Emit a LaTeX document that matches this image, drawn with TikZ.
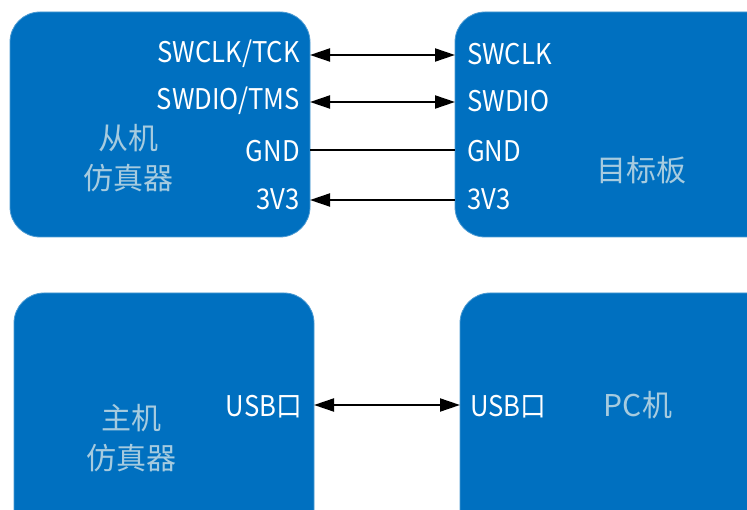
\documentclass[tikz,border=0pt]{standalone}
\usepackage{fontspec}
\setmainfont{Noto Sans CJK SC}
\newfontfamily\pinfont[FakeStretch=0.9]{Noto Sans CJK SC}
\usetikzlibrary{arrows.meta}
\definecolor{boxblue}{HTML}{0070C0}
\definecolor{softtxt}{HTML}{A6CBDF}
\tikzset{
  blk/.style={fill=boxblue, draw=boxblue!70!white, line width=0.8pt, rounded corners=30pt},
  pin/.style={text=white, font=\pinfont\fontsize{28.5}{28}\selectfont, inner sep=0pt},
  title/.style={text=softtxt, font=\fontsize{30}{40}\selectfont, align=center, inner sep=0pt},
  conn/.style={line width=2pt, black}
}
\begin{document}
\begin{tikzpicture}[x=1pt,y=-1pt]
\useasboundingbox (0,0) rectangle (747,510);
\clip (0,0) rectangle (747,510);
\fill[white] (0,0) rectangle (747,510);
% boxes
\draw[blk] (10,12) rectangle (310,237);
\draw[blk] (455,12) rectangle (780,237);
\draw[blk] (14,293) rectangle (314,560);
\draw[blk] (460,293) rectangle (780,560);
% titles
\node[title] (slave) at (128,158) {从机\\仿真器};
\node[title] (target) at (641,170) {目标板};
\node[title] (host) at (131,438) {主机\\仿真器};
\node[title] (pc) at (638,405) {PC机};
% left pins
\node[pin, anchor=east] (lclk) at (300,54) {SWCLK/TCK};
\node[pin, anchor=east] (lio) at (300,101) {SWDIO/TMS};
\node[pin, anchor=east] (lgnd) at (300,151) {GND};
\node[pin, anchor=east] (l33) at (300,199) {3V3};
\node[pin, anchor=east] (lusb) at (302,407) {USB口};
% right pins
\node[pin, anchor=west] (rclk) at (467,54) {SWCLK};
\node[pin, anchor=west] (rio) at (467,101) {SWDIO};
\node[pin, anchor=west] (rgnd) at (467,151) {GND};
\node[pin, anchor=west] (r33) at (467,199) {3V3};
\node[pin, anchor=west] (rusb) at (470,407) {USB口};
% anchor points on box edges
\coordinate (a1) at (310,55);  \coordinate (b1) at (455,55);
\coordinate (a2) at (310,102); \coordinate (b2) at (455,102);
\coordinate (a3) at (310,150); \coordinate (b3) at (455,150);
\coordinate (a4) at (310,200); \coordinate (b4) at (455,200);
\coordinate (a5) at (314,405); \coordinate (b5) at (460,405);
\draw[conn, {Triangle[length=20pt,width=13pt]}-{Triangle[length=20pt,width=13pt]}] (a1) -- (b1);
\draw[conn, {Triangle[length=20pt,width=13pt]}-{Triangle[length=20pt,width=13pt]}] (a2) -- (b2);
\draw[conn] (a3) -- (b3);
\draw[conn, {Triangle[length=20pt,width=13pt]}-] (a4) -- (b4);
\draw[conn, {Triangle[length=20pt,width=13pt]}-{Triangle[length=20pt,width=13pt]}] (a5) -- (b5);
\end{tikzpicture}
\end{document}
